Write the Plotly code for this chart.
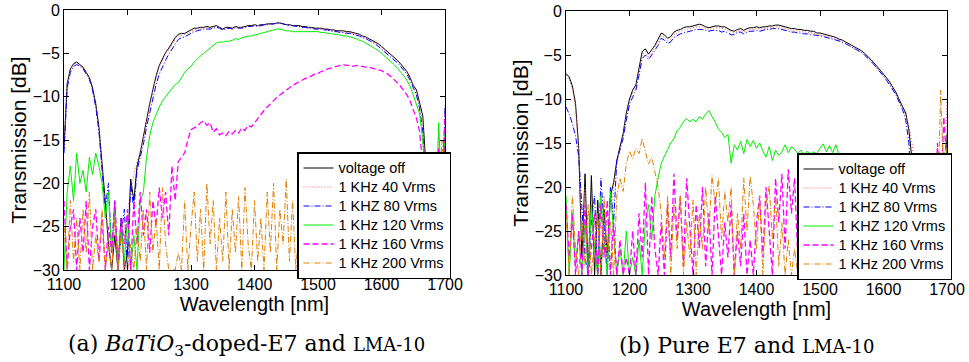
import plotly.graph_objects as go

wavelength = list(range(1100, 1705, 5))
x_ticks = [1100, 1200, 1300, 1400, 1500, 1600, 1700]
y_ticks = [0, -5, -10, -15, -20, -25, -30]

series_names_a = ["voltage off", "1 KHz 40 Vrms", "1 KHZ 80 Vrms", "1 KHz 120 Vrms", "1 KHz 160 Vrms", "1 KHz 200 Vrms"]
series_names_b = ["voltage off", "1 KHz 40 Vrms", "1 KHZ 80 Vrms", "1 KHZ 120 Vrms", "1 KHz 160 Vrms", "1 KHz 200 Vrms"]

# ---------- (a) BaTiO3-doped-E7 and LMA-10 ----------
a_off = [-16, -8.5, -6.8, -6.2, -6.0, -6.3, -6.6, -7.2, -7.8, -9.0,
         -10.8, -13.5, -17.5, -22, -27, -30, -26, -30, -24, -30,
         -28, -19.5, -22, -18, -16.5, -14.5, -12.5, -10.8, -9.2, -7.6,
         -6.4, -5.6, -4.9, -4.4, -3.8, -3.2, -2.8, -2.7, -2.7, -2.5,
         -2.3, -2.1, -2.1, -2.0, -2.0, -1.9, -2.0, -1.9, -1.8, -2.0,
         -2.2, -2.0, -2.0, -2.1, -1.9, -2.0, -2.0, -1.9, -1.8, -1.8,
         -1.7, -1.8, -1.7, -1.7, -1.6, -1.6, -1.6, -1.5, -1.5, -1.6,
         -1.7, -1.7, -1.8, -1.8, -1.8, -1.9, -1.9, -2.0, -2.0, -2.1,
         -2.1, -2.1, -2.2, -2.2, -2.3, -2.3, -2.4, -2.4, -2.4, -2.5,
         -2.5, -2.6, -2.7, -2.8, -3.0, -3.1, -3.3, -3.5, -3.7, -3.9,
         -4.2, -4.5, -4.8, -5.1, -5.5, -5.8, -6.2, -6.6, -7.1, -7.8,
         -8.7, -9.2, -10.6, -12.2, -18, -25, -21, -28, -18, -25,
         -15]
a_40 = [-16, -8.7, -6.9, -6.3, -6.1, -6.4, -6.7, -7.3, -7.9, -9.2,
        -11.0, -13.8, -18, -23, -26, -30, -24, -28, -25, -30,
        -23, -21, -19, -17.5, -16.3, -14.8, -12.8, -11.0, -9.4, -7.8,
        -6.6, -5.8, -5.1, -4.6, -4.0, -3.4, -3.0, -2.9, -2.8, -2.7,
        -2.5, -2.3, -2.2, -2.2, -2.1, -2.0, -2.1, -2.0, -1.9, -2.1,
        -2.3, -2.1, -2.1, -2.2, -2.0, -2.1, -2.0, -2.0, -1.9, -1.9,
        -1.8, -1.8, -1.8, -1.7, -1.7, -1.6, -1.6, -1.6, -1.5, -1.6,
        -1.7, -1.8, -1.8, -1.9, -1.9, -2.0, -2.0, -2.1, -2.1, -2.2,
        -2.2, -2.2, -2.3, -2.3, -2.4, -2.4, -2.5, -2.5, -2.5, -2.6,
        -2.6, -2.7, -2.8, -2.9, -3.1, -3.2, -3.4, -3.6, -3.8, -4.0,
        -4.3, -4.6, -4.9, -5.2, -5.6, -5.9, -6.3, -6.7, -7.2, -7.9,
        -8.8, -9.5, -11.0, -13, -20, -27, -17, -26, -14, -22,
        -12]
a_80 = [-16.5, -9, -7.2, -6.5, -6.3, -6.5, -6.8, -7.4, -8.0, -9.3,
        -11.2, -14, -18.5, -23, -20, -28, -22, -30, -26, -23,
        -30, -20, -23, -18.5, -17, -15.5, -13.5, -11.8, -10.2, -8.6,
        -7.4, -6.5, -5.8, -5.1, -4.5, -3.9, -3.4, -3.2, -3.1, -2.9,
        -2.7, -2.5, -2.4, -2.3, -2.2, -2.2, -2.2, -2.1, -2.0, -2.1,
        -2.3, -2.2, -2.1, -2.2, -2.0, -2.1, -2.1, -2.0, -1.9, -1.9,
        -1.8, -1.9, -1.8, -1.7, -1.7, -1.6, -1.6, -1.5, -1.5, -1.6,
        -1.7, -1.8, -1.8, -1.9, -1.9, -2.0, -2.0, -2.1, -2.1, -2.2,
        -2.2, -2.2, -2.3, -2.3, -2.4, -2.5, -2.5, -2.6, -2.6, -2.7,
        -2.7, -2.8, -2.9, -3.0, -3.2, -3.3, -3.5, -3.7, -3.9, -4.2,
        -4.5, -4.8, -5.1, -5.4, -5.8, -6.1, -6.5, -6.9, -7.4, -8.1,
        -9.0, -9.8, -11.4, -14, -22, -28, -19, -30, -16, -24,
        -11]
a_120 = [-30, -21, -18, -22, -16.5, -20, -18.5, -21, -17, -19,
         -16.5, -18, -20, -24, -21, -28, -23, -30, -25, -29,
         -24, -30, -26, -30, -22, -21, -17, -14.5, -13, -12,
         -11.2, -10.5, -10.0, -9.5, -9.0, -8.6, -8.4, -7.8, -7.2, -6.8,
         -6.5, -6.0, -5.6, -5.3, -5.0, -4.7, -4.4, -4.0, -3.8, -3.7,
         -3.7, -3.6, -3.6, -3.5, -3.3, -3.4, -3.2, -3.1, -3.0, -3.0,
         -2.9, -2.8, -2.7, -2.6, -2.5, -2.4, -2.3, -2.2, -2.2, -2.3,
         -2.4, -2.4, -2.5, -2.5, -2.5, -2.5, -2.5, -2.5, -2.5, -2.5,
         -2.5, -2.6, -2.6, -2.7, -2.7, -2.8, -2.8, -2.9, -3.0, -3.0,
         -3.1, -3.2, -3.3, -3.5, -3.6, -3.8, -4.0, -4.3, -4.5, -4.7,
         -5.0, -5.3, -5.6, -5.9, -6.3, -6.7, -7.1, -7.6, -8.1, -8.8,
         -9.8, -10.8, -12.0, -15, -22, -28, -17, -26, -13, -22,
         -14]
a_160 = [-22, -30, -25, -23, -30, -24, -28, -22, -30, -25,
         -23, -29, -24, -30, -25, -28, -22, -30, -24, -27,
         -23, -30, -22, -27, -21, -26, -23, -28, -22, -25,
         -20.5, -24, -21, -26, -18, -22, -17.5, -17, -16.5, -15,
         -13.8, -13.6, -13.4, -13.0, -12.8, -13.3, -13.0, -14.1, -13.7, -14.4,
         -14.2, -14.5, -14.0, -14.3, -13.9, -14.2, -13.6, -13.9, -13.3, -13.5,
         -13.0, -12.6, -12.0, -11.6, -11.2, -10.8, -10.4, -10.1, -9.8, -9.5,
         -9.2, -8.9, -8.7, -8.5, -8.3, -8.1, -7.9, -7.8, -7.6, -7.4,
         -7.3, -7.1, -7.0, -6.8, -6.7, -6.6, -6.5, -6.4, -6.3, -6.4,
         -6.4, -6.5, -6.4, -6.5, -6.5, -6.6, -6.6, -6.7, -6.8, -6.9,
         -7.0, -7.2, -7.4, -7.7, -8.0, -8.4, -8.8, -9.3, -9.8, -10.5,
         -11.5, -12.5, -14, -18, -25, -30, -20, -28, -16, -24,
         -12]
a_200 = [-25, -30, -22, -29, -24, -30, -23, -28, -21, -30,
         -26, -29, -23, -30, -27, -30, -24, -30, -26, -29,
         -30, -27, -30, -25, -29, -23, -30, -21, -28, -24,
         -30, -20.5, -27, -30, -30, -30, -28, -30, -22, -30,
         -25, -21, -29, -23, -30, -20, -27, -22, -30, -24,
         -29, -21, -30, -23, -28, -21.5, -30, -20.5, -27, -30,
         -22, -29, -24, -30, -21, -28, -20, -30, -23, -27,
         -19.5, -29, -22, -30, -25, -28, -24, -30, -26, -29,
         -25, -30, -27, -29, -24, -30, -26, -28, -30, -25,
         -29, -27, -30, -26, -29, -30, -27, -30, -28, -30,
         -27, -30, -29, -26, -30, -28, -30, -27, -30, -29,
         -26, -30, -28, -24, -30, -22, -27, -18, -25, -15,
         -20]

# ---------- (b) Pure E7 and LMA-10 ----------
b_off = [-7.1, -7.5, -8.5, -10.5, -15.5, -28, -18.5, -30, -18.7, -30,
         -21.5, -30, -22.5, -28, -21, -19.5, -17, -15.5, -13.9, -11.6,
         -10.0, -9.0, -8.4, -6.5, -4.6, -4.3, -4.9, -4.4, -3.9, -3.2,
         -2.5, -2.7, -3.1, -2.9, -2.4, -2.2, -2.1, -1.9, -1.8, -1.8,
         -1.7, -1.6, -1.5, -1.6, -1.8, -1.9, -1.8, -1.7, -1.7, -1.8,
         -1.8, -2.0, -2.2, -2.3, -2.1, -2.0, -2.2, -2.0, -1.9, -1.9,
         -1.8, -1.9, -1.8, -1.8, -1.7, -1.7, -1.6, -1.6, -1.7, -1.8,
         -1.9, -2.0, -2.0, -2.1, -2.1, -2.2, -2.2, -2.3, -2.3, -2.5,
         -2.5, -2.6, -2.7, -2.8, -2.9, -3.0, -3.2, -3.3, -3.5, -3.7,
         -3.9, -4.1, -4.3, -4.5, -4.8, -5.1, -5.5, -5.9, -6.3, -6.7,
         -7.1, -7.6, -8.1, -8.7, -9.3, -10.1, -10.8, -11.6, -13.5, -17,
         -30, -24, -30, -28, -30, -26, -30, -22, -17, -25,
         -14]
b_40 = [-7.3, -7.8, -8.9, -11, -16, -26, -20, -30, -22, -28,
        -24, -30, -21, -26, -30, -20, -17.5, -15.8, -14.2, -12.0,
        -10.3, -9.3, -8.7, -6.9, -5.0, -4.6, -5.2, -4.7, -4.2, -3.5,
        -2.8, -3.0, -3.4, -3.2, -2.7, -2.5, -2.3, -2.2, -2.1, -2.0,
        -1.9, -1.8, -1.8, -1.8, -2.0, -2.1, -2.0, -1.9, -1.9, -2.0,
        -2.0, -2.2, -2.4, -2.5, -2.3, -2.2, -2.4, -2.2, -2.1, -2.1,
        -2.0, -2.1, -2.0, -2.0, -1.9, -1.9, -1.8, -1.8, -1.9, -2.0,
        -2.1, -2.2, -2.2, -2.3, -2.3, -2.4, -2.4, -2.5, -2.5, -2.7,
        -2.7, -2.8, -2.9, -3.0, -3.1, -3.2, -3.4, -3.5, -3.7, -3.9,
        -4.1, -4.3, -4.5, -4.7, -5.0, -5.3, -5.7, -6.1, -6.5, -6.9,
        -7.3, -7.8, -8.3, -8.9, -9.5, -10.3, -11.0, -11.9, -13, -15,
        -19, -30, -22, -30, -25, -28, -17, -30, -16, -24,
        -10]
b_80 = [-10.9, -11.7, -12.8, -14.2, -16.5, -22, -28, -30, -24, -21,
        -30, -19, -25, -30, -20, -24, -17, -15.8, -14.5, -12.4,
        -10.6, -9.8, -9.0, -7.3, -5.4, -5.0, -5.5, -5.0, -4.5, -3.9,
        -3.1, -3.3, -3.7, -3.5, -3.0, -2.8, -2.6, -2.5, -2.4, -2.3,
        -2.2, -2.1, -2.1, -2.1, -2.2, -2.3, -2.2, -2.2, -2.2, -2.4,
        -2.3, -2.5, -2.7, -2.7, -2.4, -2.4, -2.6, -2.4, -2.3, -2.3,
        -2.2, -2.3, -2.2, -2.1, -2.1, -2.0, -2.0, -2.0, -2.1, -2.2,
        -2.3, -2.4, -2.4, -2.5, -2.5, -2.6, -2.6, -2.7, -2.7, -2.8,
        -2.8, -2.9, -3.0, -3.1, -3.2, -3.3, -3.4, -3.6, -3.7, -3.9,
        -4.1, -4.3, -4.5, -4.7, -5.0, -5.3, -5.7, -6.1, -6.5, -6.9,
        -7.4, -7.9, -8.4, -9.0, -9.6, -10.4, -11.2, -12.4, -15, -22,
        -28, -30, -26, -30, -24, -30, -27, -21, -30, -18,
        -20]
b_120 = [-21, -30, -23, -29, -25, -30, -24, -30, -22, -27,
         -30, -21, -26, -30, -20.5, -25, -30, -27, -30, -25,
         -30, -28, -30, -26, -30, -24, -22, -26, -21, -19,
         -17.3, -16.5, -15.8, -15.0, -14.5, -13.6, -13.2, -12.6, -12.2, -12.6,
         -12.3, -12.6, -12.0, -12.3, -11.7, -11.3, -12.0, -12.6, -13.4, -13.8,
         -14.4, -14.0, -17.3, -15.2, -15.8, -14.8, -16.2, -14.6, -15.4, -14.7,
         -15.6, -15.0, -15.9, -16.6, -15.4, -17.0, -15.8, -16.4, -16.0, -15.2,
         -16.1, -15.4, -15.7, -16.2, -15.8, -16.4, -15.9, -16.3, -16.0, -16.2,
         -15.6, -15.1, -16.0, -15.3, -16.1, -15.2, -16.3, -17.0, -17.5, -18.2,
         -19, -20, -21, -22, -23, -24, -25, -26, -27, -28,
         -29, -30, -28, -30, -27, -30, -29, -30, -28, -30,
         -30, -27, -30, -29, -30, -25, -30, -20, -28, -16,
         -22]
b_160 = [-22, -28, -23, -30, -25, -30, -22, -30, -27, -23,
         -30, -22, -28, -21.5, -30, -24, -30, -26, -30, -28,
         -30, -25, -30, -23, -28, -19.5, -30, -21, -27, -30,
         -24, -30, -22, -28, -18.5, -26, -21, -29, -19, -25,
         -30, -22, -27, -20, -29, -23, -30, -21, -26, -30,
         -24, -28, -22, -30, -25, -29, -23, -30, -26, -30,
         -24, -21, -28, -20, -25, -30, -19, -24, -18.5, -27,
         -18, -23, -19, -28, -30, -26, -30, -27, -30, -28,
         -30, -27, -30, -29, -30, -28, -30, -26, -30, -29,
         -30, -28, -30, -27, -30, -29, -30, -28, -30, -27,
         -30, -29, -30, -28, -30, -27, -30, -29, -30, -28,
         -30, -26, -30, -24, -30, -20, -28, -15, -22, -12,
         -18]
b_200 = [-23, -30, -21, -27, -30, -24, -29, -22, -30, -26,
         -23, -30, -21.5, -28, -24, -30, -21, -19, -20.5, -17.4,
         -15.9, -16.8, -15.6, -16.2, -14.5, -15.8, -17.4, -16.6, -18.3, -20,
         -23, -28, -21, -30, -22, -27, -21, -30, -24, -28,
         -21.5, -30, -23, -27, -20, -25, -18.7, -22, -19, -26,
         -20.5, -24, -20, -30, -23, -27, -19, -25, -18.8, -22,
         -27, -21, -30, -22, -19.8, -26, -21, -29, -24, -30,
         -26, -30, -27, -30, -28, -30, -27, -30, -29, -30,
         -28, -30, -27, -30, -29, -30, -28, -30, -27, -30,
         -29, -30, -28, -30, -27, -30, -29, -30, -28, -30,
         -27, -30, -29, -30, -28, -30, -27, -30, -29, -30,
         -28, -30, -25, -30, -22, -28, -18, -24, -9, -20,
         -15]

styles = [
    dict(color="#000000", width=1, dash="solid"),
    dict(color="#FF5A5A", width=1, dash="1px,2px"),
    dict(color="#0000FF", width=1, dash="6px,2px,1px,2px"),
    dict(color="#00EE00", width=1, dash="solid"),
    dict(color="#FF00FF", width=1.3, dash="6px,3px"),
    dict(color="#E08000", width=1, dash="6px,2px,1px,2px"),
]

def legend_label(s):
    return "<span style='font-size:14.5px'>" + s + "</span>"

fig = go.Figure()
for name, ys, st in zip(series_names_a, [a_off, a_40, a_80, a_120, a_160, a_200], styles):
    fig.add_trace(go.Scatter(x=wavelength, y=ys, mode="lines", name=legend_label(name), line=st,
                             xaxis="x", yaxis="y", legend="legend"))
for name, ys, st in zip(series_names_b, [b_off, b_40, b_80, b_120, b_160, b_200], styles):
    fig.add_trace(go.Scatter(x=wavelength, y=ys, mode="lines", name=legend_label(name), line=st,
                             xaxis="x2", yaxis="y2", legend="legend2"))

W, H = 969, 362
tick_font = dict(family="Liberation Sans, Arial", size=16, color="black")
title_font = dict(family="Liberation Sans, Arial", size=20, color="black")

def xax(domain, anchor):
    return dict(domain=domain, anchor=anchor, range=[1100, 1700], tickvals=x_ticks,
                ticks="inside", ticklen=5, tickcolor="black", showline=True, linecolor="black",
                linewidth=1, mirror="ticks", showgrid=False, zeroline=False, tickfont=tick_font,
                automargin=False,
                title=dict(text="Wavelength [nm]", font=title_font, standoff=0))

def yax(domain, anchor):
    return dict(domain=domain, anchor=anchor, range=[-30, 0], tickvals=y_ticks,
                ticks="inside", ticklen=5, tickcolor="black", showline=True, linecolor="black",
                linewidth=1, mirror="ticks", showgrid=False, zeroline=False, tickfont=tick_font,
                automargin=False,
                title=dict(text="Transmission [dB]", font=dict(family="Liberation Sans, Arial", size=21, color="black"), standoff=0))

yd_a = [1 - 270 / H, 1 - 10 / H]
yd_b = [1 - 275 / H, 1 - 11 / H]

legend_common = dict(bgcolor="white", bordercolor="black", borderwidth=1.5,
                     font=dict(family="Liberation Sans, Arial", size=12, color="black"),
                     xanchor="left", yanchor="top", tracegroupgap=0, itemwidth=30)

caption_font = dict(family="DejaVu Serif, Liberation Serif", size=22, color="black")

fig.update_layout(
    width=W, height=H, margin=dict(l=0, r=0, t=0, b=0, autoexpand=False),
    paper_bgcolor="white", plot_bgcolor="white", showlegend=True,
    xaxis=xax([64 / W, 445 / W], "y"),
    yaxis=yax(yd_a, "x"),
    xaxis2=xax([566 / W, 947 / W], "y2"),
    yaxis2=yax(yd_b, "x2"),
    legend=dict(x=297 / W, y=1 - 152 / H, **legend_common),
    legend2=dict(x=797 / W, y=1 - 153 / H, **legend_common),
    annotations=[
        dict(text="(a) <i>BaTiO</i><sub>3</sub>-doped-E7 and <span style='font-size:18px'>LMA-10</span>",
             x=246 / W, y=1 - 345 / H, xref="paper", yref="paper", showarrow=False,
             xanchor="center", yanchor="middle", font=caption_font),
        dict(text="(b) Pure E7 and <span style='font-size:18px'>LMA-10</span>",
             x=747 / W, y=1 - 345 / H, xref="paper", yref="paper", showarrow=False,
             xanchor="center", yanchor="middle", font=caption_font),
    ],
)

fig.write_html("out.html", config={"displayModeBar": False},
               post_script="document.body.style.margin='0';")
